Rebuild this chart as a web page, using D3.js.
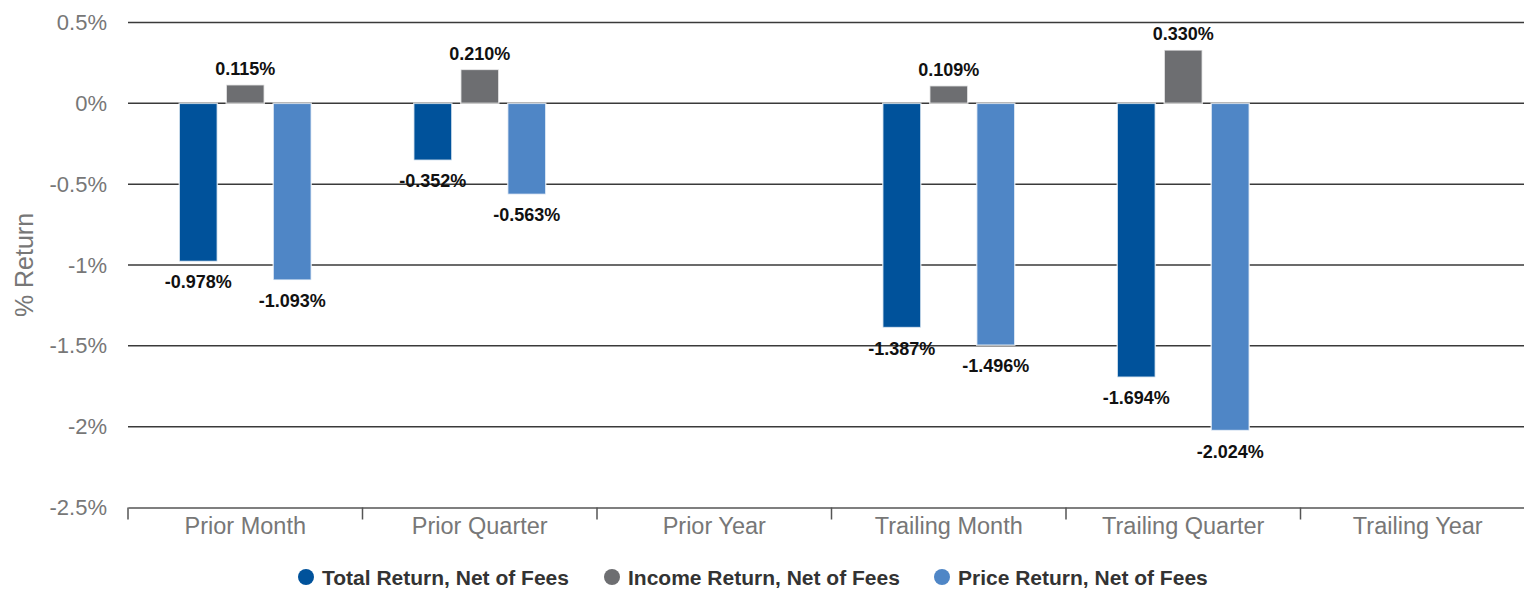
<!DOCTYPE html>
<html>
<head>
<meta charset="utf-8">
<script src="https://cdn.jsdelivr.net/npm/d3@7"></script>
<style>
  html, body { margin: 0; padding: 0; background: #fff; }
  svg { display: block; font-family: "Liberation Sans", Arial, sans-serif; }
</style>
</head>
<body>
<svg id="chart" width="1524" height="592"></svg>
<script>
var categories = ["Prior Month", "Prior Quarter", "Prior Year", "Trailing Month", "Trailing Quarter", "Trailing Year"];
var seriesNames = ["Total Return, Net of Fees", "Income Return, Net of Fees", "Price Return, Net of Fees"];
var seriesColors = ["#00529b", "#6d6e71", "#4f86c6"];
// null = no value for that period
var totalReturn = [-0.978, -0.352, null, -1.387, -1.694, null];
var incomeReturn = [0.115, 0.210, null, 0.109, 0.330, null];
var priceReturn = [-1.093, -0.563, null, -1.496, -2.024, null];
var yTicks = [0.5, 0, -0.5, -1, -1.5, -2, -2.5];

var allSeries = [totalReturn, incomeReturn, priceReturn];

var svg = d3.select("#chart");
var plotLeft = 128, plotRight = 1535, plotTop = 22.5, plotBottom = 507.5;

var x0 = d3.scaleBand().domain(categories).range([plotLeft, plotRight]);
var x1 = d3.scaleBand().domain(d3.range(3)).range([0, 132]).paddingInner(0.19);
var y = d3.scaleLinear().domain([0.5, -2.5]).range([plotTop, plotBottom]);

// gridlines
svg.append("g").selectAll("line")
    .data(yTicks.slice(0, -1))
    .enter().append("line")
    .attr("x1", plotLeft).attr("x2", plotRight)
    .attr("y1", function(d) { return y(d); })
    .attr("y2", function(d) { return y(d); })
    .attr("stroke", "#3a3a3a")
    .attr("stroke-width", 1.5);

// y tick labels
svg.append("g").selectAll("text")
    .data(yTicks)
    .enter().append("text")
    .attr("x", 107)
    .attr("y", function(d) { return y(d) + 7.5; })
    .attr("text-anchor", "end")
    .attr("fill", "#777")
    .style("font-size", "22px")
    .text(function(d) { return d + "%"; });

// y axis title
svg.append("text")
    .attr("transform", "translate(33,265) rotate(-90)")
    .attr("text-anchor", "middle")
    .attr("fill", "#777")
    .style("font-size", "25px")
    .text("% Return");

// bottom axis
var xAxis = d3.axisBottom(x0).tickSize(0).tickSizeOuter(0).tickFormat("");
var gx = svg.append("g").attr("transform", "translate(0," + plotBottom + ")").call(xAxis);
gx.select(".domain").attr("stroke", "#555").attr("stroke-width", 1.5);
var bounds = categories.map(function(c) { return x0(c); });
gx.selectAll(".sep").data(bounds).enter().append("line")
    .attr("class", "sep")
    .attr("x1", function(d) { return d; }).attr("x2", function(d) { return d; })
    .attr("y1", 0).attr("y2", 12)
    .attr("stroke", "#555").attr("stroke-width", 1.5);
gx.selectAll(".cat").data(categories).enter().append("text")
    .attr("class", "cat")
    .attr("x", function(d) { return x0(d) + x0.bandwidth() / 2; })
    .attr("y", 26)
    .attr("text-anchor", "middle")
    .attr("fill", "#777")
    .style("font-size", "23.5px")
    .text(function(d) { return d; });

// bars
var groupOffset = (x0.bandwidth() - 132) / 2;
var bars = [];
allSeries.forEach(function(vals, s) {
    vals.forEach(function(v, i) {
        if (v === null) return;
        bars.push({ s: s, cat: categories[i], v: v });
    });
});

var gBars = svg.append("g");
gBars.selectAll("rect").data(bars).enter().append("rect")
    .attr("x", function(d) { return x0(d.cat) + groupOffset + x1(d.s); })
    .attr("width", x1.bandwidth())
    .attr("y", function(d) { return y(Math.max(0, d.v)); })
    .attr("height", function(d) { return Math.abs(y(d.v) - y(0)); })
    .attr("fill", function(d) { return seriesColors[d.s]; })
    .attr("stroke", "rgba(255,255,255,0.7)")
    .attr("stroke-width", 1.5);

// value labels (plain hyphen minus, as in the source)
gBars.selectAll("text").data(bars).enter().append("text")
    .attr("x", function(d) { return x0(d.cat) + groupOffset + x1(d.s) + x1.bandwidth() / 2; })
    .attr("y", function(d) { return d.v >= 0 ? y(d.v) - 9.5 : y(d.v) + 27; })
    .attr("text-anchor", "middle")
    .attr("fill", "#111")
    .style("font-size", "18px")
    .style("font-weight", "bold")
    .text(function(d) { return d.v.toFixed(3) + "%"; });

// legend
var legendX = [306, 612, 942];
var legend = svg.append("g").selectAll("g").data(seriesNames).enter().append("g")
    .attr("transform", function(d, i) { return "translate(" + legendX[i] + ",577)"; });
legend.append("circle").attr("r", 8).attr("fill", function(d, i) { return seriesColors[i]; });
legend.append("text")
    .attr("x", 16).attr("y", 7.5)
    .attr("fill", "#333")
    .style("font-size", "21px")
    .style("font-weight", "bold")
    .text(function(d) { return d; });
</script>
</body>
</html>
